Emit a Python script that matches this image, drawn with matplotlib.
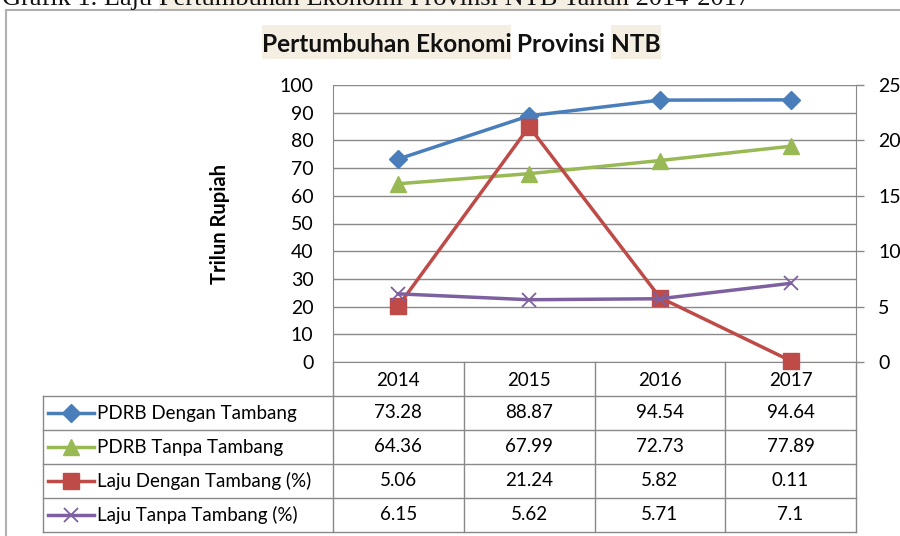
import numpy as np
import matplotlib.pyplot as plt
from matplotlib import transforms
from matplotlib.lines import Line2D
from matplotlib.patches import Rectangle

years = ['2014', '2015', '2016', '2017']
pdrb_dengan = [73.28, 88.87, 94.54, 94.64]
pdrb_tanpa = [64.36, 67.99, 72.73, 77.89]
laju_dengan = [5.06, 21.24, 5.82, 0.11]
laju_tanpa = [6.15, 5.62, 5.71, 7.1]
names = ['PDRB Dengan Tambang', 'PDRB Tanpa Tambang',
         'Laju Dengan Tambang (%)', 'Laju Tanpa Tambang (%)']

caption = ['Grafik 1. Laju ', 'Pertumbuhan Ekonomi Provinsi NTB Tahun', ' 2014-2017']
title = ['Pertumbuhan Ekonomi', ' Provinsi ', 'NTB']

W, H = 900, 536
plt.rcParams['font.family'] = ['Lato', 'DejaVu Sans']
fig = plt.figure(figsize=(9, 5.36), dpi=100)
rend = fig.canvas.get_renderer()

def fx(x):
    return x / W

def fy(y):
    return 1 - y / H

grid_c = '#898989'
hl_c = '#F4EEE3'

styles = [dict(color='#4A7EBB', marker='D', ms=9),
          dict(color='#98B954', marker='^', ms=11),
          dict(color='#BE4B48', marker='s', ms=11),
          dict(color='#7D60A0', marker='x', ms=10, mew=1.3)]

# chart border (word-document frame)
fig.add_artist(Line2D([fx(6), fx(900)], [fy(10), fy(10)], color='#B0B0B0', lw=1.5))
fig.add_artist(Line2D([fx(6), fx(6)], [fy(10), fy(536)], color='#B0B0B0', lw=1.5))

# pieces of text with highlighted parts
def pieces(parts, hl, x0, ybase, hl_y0, hl_y1, center=False, **kw):
    objs = [fig.text(0, fy(ybase), p, va='baseline', **kw) for p in parts]
    widths = [o.get_window_extent(rend).width for o in objs]
    x = x0 - sum(widths) / 2 if center else x0
    for o, w, h in zip(objs, widths, hl):
        o.set_x(fx(x))
        if h:
            fig.add_artist(Rectangle((fx(x), fy(hl_y1)), fx(w), (hl_y1 - hl_y0) / H,
                                     facecolor=hl_c, edgecolor='none', zorder=0))
        x += w

pieces(caption, [False, True, False], 2, 5, -20, 9, family='Liberation Serif',
       fontsize=19, color='#111111')
pieces(title, [True, False, True], 461, 52, 25, 59, center=True,
       fontsize=17.6, fontweight='bold', color='#111111')

x = np.arange(len(years))
ax = fig.add_axes([fx(333), fy(362), (856 - 333) / W, (362 - 85) / H])
ax.set_xlim(-0.5, 3.5)
ax.set_ylim(0, 100)
ax.set_yticks(np.arange(0, 101, 10))
ax.set_xticks([])
ax.grid(axis='y', color=grid_c, lw=1)
ax.set_axisbelow(True)
ax.tick_params(axis='y', length=0, pad=14, labelsize=14)
for s in ['top', 'right']:
    ax.spines[s].set_visible(False)
for s in ['left', 'bottom']:
    ax.spines[s].set_color(grid_c)
ax.set_ylabel('Trilun Rupiah', fontsize=14.5, fontweight='bold', labelpad=36)

ax2 = ax.twinx()
ax2.set_ylim(0, 25)
ax2.set_yticks(np.arange(0, 26, 5))
ax2.tick_params(axis='y', length=6, width=1, color=grid_c, pad=10, labelsize=14)
for s in ['top', 'left', 'bottom']:
    ax2.spines[s].set_visible(False)
ax2.spines['right'].set_color(grid_c)

series = [(ax, pdrb_dengan), (ax, pdrb_tanpa), (ax2, laju_dengan), (ax2, laju_tanpa)]
for (a, vals), st in zip(series, styles):
    a.plot(x, vals, lw=2.5, clip_on=False, **st)

# data table below the plot
tr = transforms.blended_transform_factory(ax.transData, fig.transFigure)
row_y = [362, 396, 430, 464, 498, 532]
for i in range(len(years) + 1):
    fig.add_artist(Line2D([i - 0.5, i - 0.5], [fy(362), fy(532)], transform=tr,
                          color=grid_c, lw=1))
fig.add_artist(Line2D([fx(43), fx(43)], [fy(396), fy(532)], color=grid_c, lw=1))
for yy in row_y[1:]:
    fig.add_artist(Line2D([fx(43), fx(856)], [fy(yy), fy(yy)], color=grid_c, lw=1))

for i, yr in enumerate(years):
    fig.text(i, fy(380), yr, transform=tr, ha='center', va='center', fontsize=13.5)

table_vals = [pdrb_dengan, pdrb_tanpa, laju_dengan, laju_tanpa]
for r, (nm, vals, st) in enumerate(zip(names, table_vals, styles)):
    yc = fy((row_y[r + 1] + row_y[r + 2]) / 2)
    fig.add_artist(Line2D([fx(48), fx(71), fx(94)], [yc, yc, yc], lw=2.5,
                          markevery=[1], **st))
    fig.text(fx(97), yc, nm, ha='left', va='center', fontsize=13.5)
    for i, v in enumerate(vals):
        fig.text(i, yc, f'{v:g}', transform=tr, ha='center', va='center', fontsize=13.5)

fig.savefig('out.png', dpi=100)
